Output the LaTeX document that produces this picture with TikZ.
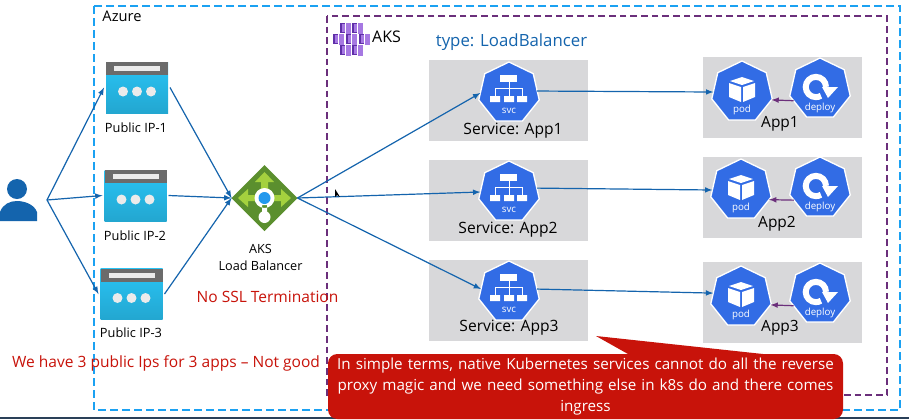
\documentclass[tikz,border=0pt]{standalone}
\usepackage{fontspec}
\setmainfont{Open Sans}
\usetikzlibrary{shapes.geometric}
\definecolor{azureblue}{HTML}{1BA1F2}
\definecolor{aksviolet}{HTML}{6B2F7B}
\definecolor{akslight}{HTML}{A678E2}
\definecolor{aksdark}{HTML}{5F2FA8}
\definecolor{linkblue}{HTML}{1464AD}
\definecolor{k8sblue}{HTML}{326CE5}
\definecolor{ipblue}{HTML}{29C4F5}
\definecolor{ipgrey}{HTML}{6B6B6B}
\definecolor{lbgreen}{HTML}{5B8F2E}
\definecolor{lblime}{HTML}{A4D13E}
\definecolor{noteRed}{HTML}{C8130A}
\definecolor{panelgrey}{HTML}{D8D8DA}
\definecolor{stripdark}{HTML}{2A4058}
\tikzset{
  panel/.style={fill=panelgrey,minimum width=119.25pt,minimum height=60.75pt,inner sep=0,outer sep=0},
  hepta/.style={regular polygon,regular polygon sides=7,fill=k8sblue,draw=white,line width=1pt,
    minimum size=46.5pt,inner sep=0,outer sep=0},
  ipbody/.style={top color=ipblue,bottom color=ipblue!85!black,minimum width=46.5pt,minimum height=38.25pt,inner sep=0,outer sep=1.5pt},
  link/.style={->,>=latex,draw=linkblue,line width=0.9pt},
  sublink/.style={->,>=latex,draw=aksviolet,line width=0.9pt},
  plain/.style={inner sep=0,outer sep=0,text=black},
  iplabel/.style={plain,font=\fontsize{9.6}{11}\selectfont},
  svclabel/.style={plain,font=\fontsize{11.7}{14}\selectfont},
  applabel/.style={plain,font=\fontsize{11.6}{14}\selectfont},
  iconlabel/.style={text=white,inner sep=0,font=\fontsize{7.3}{8}\selectfont},
  redtext/.style={inner sep=0,outer sep=0,text=noteRed,font=\fontsize{11.65}{14}\selectfont},
}
\newcommand{\svcicon}[3]{%
  \node (#1) at (#2,#3) [hepta] {};
  \begin{scope}[shift={(#2,#3)}]
    \fill[white] (-9,-18) rectangle (8,-11);
    \fill[white] (-19,3) rectangle (-9,9) (-5,3) rectangle (5,9) (8,3) rectangle (18,9);
    \draw[white,line width=0.7pt] (0,-11) -- (0,3) (-14,3) -- (-14,-5) -- (13,-5) -- (13,3);
    \node (#1text) at (0,18) [iconlabel] {svc};
  \end{scope}}
\newcommand{\podicon}[3]{%
  \node (#1) at (#2,#3) [hepta] {};
  \begin{scope}[shift={(#2,#3)}]
    \fill[white] (0,-15) -- (12,-11) -- (0,-7) -- (-12,-11) -- cycle;
    \fill[white] (-13,-9) -- (-1,-5) -- (-1,10) -- (-13,5) -- cycle;
    \fill[white] (13,-9) -- (1,-5) -- (1,10) -- (13,5) -- cycle;
    \node (#1text) at (0,18) [iconlabel] {pod};
  \end{scope}}
\newcommand{\deployicon}[3]{%
  \node (#1) at (#2,#3) [hepta] {};
  \begin{scope}[shift={(#2,#3)}]
    \draw[white,line width=4.5pt] (6,-2) arc[start angle=0,end angle=300,radius=7.6pt];
    \fill[white] (2,-2) -- (18,-2) -- (8,9) -- cycle;
    \node (#1text) at (0,19) [iconlabel] {deploy};
  \end{scope}}
\newcommand{\ipicon}[3]{%
  \node (#1) at (#2,#3) [ipbody] {};
  \begin{scope}[shift={(#2,#3)}]
    \fill[ipgrey] (-31,-25.5) rectangle (31,-12.5);
    \fill[white!92!black] (-23,-21.5) rectangle (23,-16.5);
    \fill[white!92!black] (-14,4) circle (5) (0,4) circle (5) (14,4) circle (5);
  \end{scope}}
\newcommand{\akscube}[2]{%
  \fill[aksdark] (#1-5.5,#2-5) rectangle (#1,#2+5);
  \fill[akslight] (#1-3.5,#2-4) rectangle (#1,#2+4);
  \fill[akslight] (#1+0.5,#2-5.5) rectangle (#1+5.5,#2+5.5);}
\begin{document}
\begin{tikzpicture}[x=0.75pt,y=-0.75pt]
   \useasboundingbox (0,0) rectangle (909,419);
   \fill[white] (0,0) rectangle (909,419);
   \fill[stripdark] (0,417) rectangle (909,419);
   % boxes
   \draw[azureblue,line width=2.1pt,dash pattern=on 6pt off 3pt] (94,6) rectangle (900,410);
   \draw[aksviolet,line width=1.6pt,dash pattern=on 5pt off 3pt] (327,16) rectangle (887,395);
   \node (azure) at (122,16) [plain,font=\fontsize{11}{13}\selectfont] {Azure};
   \node (aks) at (386.5,37) [plain,font=\fontsize{12}{14}\selectfont] {AKS};
   \node (lbtype) at (511.5,42) [plain,text=linkblue,font=\fontsize{12.6}{15}\selectfont] {type: LoadBalancer};
   \akscube{345}{28} \akscube{357}{28}
   \akscube{338}{39} \akscube{351}{39} \akscube{364}{39}
   \akscube{345}{50} \akscube{357}{50}
   % grey panels
   \node (svcpanel1) at (508.5,100) [panel] {};
   \node (svcpanel2) at (508.5,200) [panel] {};
   \node (svcpanel3) at (508.5,300) [panel] {};
   \node (apppanel1) at (782,97.5) [panel] {};
   \node (apppanel2) at (782,197) [panel] {};
   \node (apppanel3) at (782,302) [panel] {};
   % user
   \node (user) at (17,200) [minimum width=45pt,minimum height=31.5pt,inner sep=0,outer sep=0] {};
   \fill[linkblue] (17,189) circle (10);
   \fill[linkblue] (0,221) -- (0,212) .. controls (3,204) and (10,201) .. (17,201)
      .. controls (24,201) and (34,204) .. (37,212) -- (37,221) -- cycle;
   % public ips
   \ipicon{publicip1}{137}{87.5}
   \ipicon{publicip2}{135.5}{195.5}
   \ipicon{publicip3}{131.5}{294}
   \node (iplabel1) at (136,128) [iplabel] {Public IP-1};
   \node (iplabel2) at (135,236) [iplabel] {Public IP-2};
   \node (iplabel3) at (131,333) [iplabel] {Public IP-3};
   % load balancer
   \node (lb) at (264.5,198) [diamond,aspect=1,fill=lbgreen,minimum width=49.5pt,minimum height=49.5pt,inner sep=0,outer sep=0] {};
   \fill[lblime] (264.5,172) -- (274,182) -- (268,182) -- (268,190) -- (261,190) -- (261,182) -- (255,182) -- cycle;
   \fill[lblime] (238,198) -- (248,189) -- (248,195) -- (256,195) -- (256,201) -- (248,201) -- (248,207) -- cycle;
   \fill[lblime] (291,198) -- (281,189) -- (281,195) -- (273,195) -- (273,201) -- (281,201) -- (281,207) -- cycle;
   \fill[white] (264.5,198) circle (10) (262,205) rectangle (267,215);
   \fill[white] (264.5,217) circle (6);
   \fill[k8sblue!70!cyan] (264.5,198) circle (6);
   \node (lblabel) at (260.5,257.5) [plain,align=center,font=\fontsize{9.5}{13}\selectfont] {AKS\\Load Balancer};
   % services
   \svcicon{svc1}{509}{93}
   \svcicon{svc2}{509}{192}
   \svcicon{svc3}{509}{292}
   \node (svclabel1) at (513,131) [svclabel] {Service: App1};
   \node (svclabel2) at (508,230) [svclabel] {Service: App2};
   \node (svclabel3) at (509,328) [svclabel] {Service: App3};
   % apps
   \podicon{pod1}{742}{92}
   \podicon{pod2}{741}{190}
   \podicon{pod3}{741}{297}
   \deployicon{deploy1}{820}{89}
   \deployicon{deploy2}{820}{188}
   \deployicon{deploy3}{820}{294}
   \node (applabel1) at (780,124) [applabel] {App1};
   \node (applabel2) at (777,224) [applabel] {App2};
   \node (applabel3) at (780,328) [applabel] {App3};
   % connectors
   \draw[link] (user.east) to (publicip1.west);
   \draw[link] (user.east) to (publicip2.west);
   \draw[link] (user.east) to (publicip3.west);
   \draw[link] (publicip1.east) to (lb.west);
   \draw[link] (publicip2.east) to (lb.west);
   \draw[link] (publicip3.east) to (lb.west);
   \draw[link] (lb.east) to (svc1.west);
   \draw[link] (lb.east) to (svc2.west);
   \draw[link] (lb.east) to (svc3.174);
   \draw[link] (svc1.4) to (pod1.west);
   \draw[link] (svc2.8) to (pod2.west);
   \draw[link] (svc3.6) to (pod3.172);
   \draw[sublink] (deploy1.204) to (pod1.-15);
   \draw[sublink] (deploy2.205) to (pod2.-19);
   \draw[sublink] (deploy3.204) to (pod3.-15);
   % remarks
   \node (nossl) at (267.5,297) [redtext] {No SSL Termination};
   \node (threeips) at (166,363) [redtext] {We have 3 public Ips for 3 apps -- Not good};
   \fill[noteRed] (596,336) -- (763,354) -- (628,354) -- cycle;
   \node (note) at (585.5,386.5) [fill=noteRed,rounded corners=7pt,minimum width=386.25pt,minimum height=48.75pt,inner sep=0,outer sep=0,
      text=white,align=center,text width=382pt,font=\fontsize{11.4}{15.75}\selectfont]
      {In simple terms, native Kubernetes services cannot do all the reverse\\proxy magic and we need something else in k8s do and there comes\\ingress};
   \fill[black] (335,189) -- (335,197) -- (337,195) -- (340,197) -- cycle;
  \end{tikzpicture}
\end{document}
